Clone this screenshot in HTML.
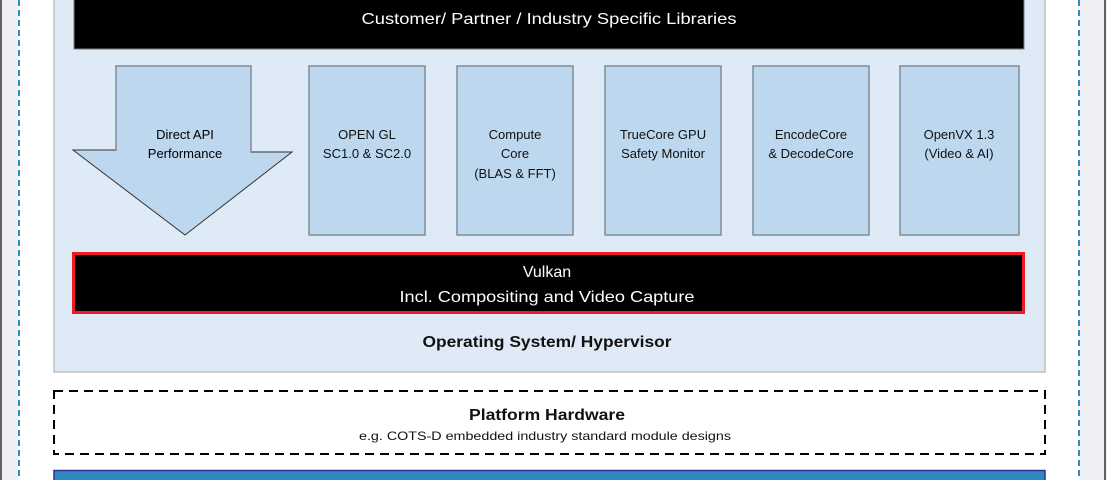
<!DOCTYPE html>
<html><head><meta charset="utf-8"><style>
html,body{margin:0;padding:0;background:#fff;}
svg{display:block;}
text{font-family:"Liberation Sans",sans-serif;}
</style></head><body>
<svg width="1107" height="480" viewBox="0 0 1107 480" xmlns="http://www.w3.org/2000/svg">
<rect x="0" y="0" width="1107" height="480" fill="#fff"/>
<rect x="0" y="0" width="18" height="480" fill="#eef0f3"/>
<rect x="1080" y="0" width="27" height="480" fill="#eef0f3"/>
<line x1="1" y1="0" x2="1" y2="480" stroke="#333" stroke-width="1.5"/>
<line x1="1105" y1="0" x2="1105" y2="480" stroke="#333" stroke-width="1.5"/>
<line x1="19" y1="0" x2="19" y2="480" stroke="#2e8bc0" stroke-width="2" stroke-dasharray="6,4"/>
<line x1="1079" y1="0" x2="1079" y2="480" stroke="#2e8bc0" stroke-width="2" stroke-dasharray="6,4"/>
<rect x="54" y="-5" width="991" height="377" fill="#deebf6" stroke="#bfbfbf" stroke-width="1.5"/>
<rect x="74" y="-5" width="950" height="54" fill="#000" stroke="#7f7f7f" stroke-width="1"/>
<text x="549" y="24" fill="#fff" font-size="16" text-anchor="middle" textLength="375" lengthAdjust="spacingAndGlyphs">Customer/ Partner / Industry Specific Libraries</text>
<polygon points="116,66 251,66 251,152 292,152 185,235 73,150 116,150" fill="#bdd7ee" stroke="#333" stroke-width="1"/>
<polyline points="116,150 116,66 251,66 251,152" fill="none" stroke="#7f8c99" stroke-width="1.5"/>
<text x="185" y="139" font-size="13" text-anchor="middle">Direct API</text>
<text x="185" y="158" font-size="13" text-anchor="middle">Performance</text>
<g fill="#bdd7ee" stroke="#7f8c99" stroke-width="1.5">
<rect x="309" y="66" width="116" height="169"/>
<rect x="457" y="66" width="116" height="169"/>
<rect x="605" y="66" width="116" height="169"/>
<rect x="753" y="66" width="116" height="169"/>
<rect x="900" y="66" width="119" height="169"/>
</g>
<g font-size="13" text-anchor="middle" fill="#111">
<text x="367" y="139">OPEN GL</text><text x="367" y="158">SC1.0 &amp; SC2.0</text>
<text x="515" y="139">Compute</text><text x="515" y="158">Core</text><text x="515" y="178">(BLAS &amp; FFT)</text>
<text x="663" y="139">TrueCore GPU</text><text x="663" y="158">Safety Monitor</text>
<text x="811" y="139">EncodeCore</text><text x="811" y="158">&amp; DecodeCore</text>
<text x="959" y="139">OpenVX 1.3</text><text x="959" y="158">(Video &amp; AI)</text>
</g>
<rect x="73.5" y="253.5" width="950" height="59" fill="#000" stroke="#ed1c24" stroke-width="3"/>
<text x="547" y="277" fill="#fff" font-size="16" text-anchor="middle">Vulkan</text>
<text x="547" y="302" fill="#fff" font-size="16" text-anchor="middle" textLength="295" lengthAdjust="spacingAndGlyphs">Incl. Compositing and Video Capture</text>
<text x="547" y="347" fill="#111" font-size="16" font-weight="bold" text-anchor="middle" textLength="249" lengthAdjust="spacingAndGlyphs">Operating System/ Hypervisor</text>
<rect x="54" y="391" width="991" height="63" fill="#fff" stroke="#000" stroke-width="2" stroke-dasharray="9,6"/>
<text x="547" y="420" fill="#111" font-size="16" font-weight="bold" text-anchor="middle" textLength="156" lengthAdjust="spacingAndGlyphs">Platform Hardware</text>
<text x="545" y="440" fill="#111" font-size="12" text-anchor="middle" textLength="372" lengthAdjust="spacingAndGlyphs">e.g. COTS-D embedded industry standard module designs</text>
<rect x="54" y="470.5" width="991" height="15" fill="#2e89be" stroke="#2e3192" stroke-width="1.5"/>
</svg>
</body></html>
